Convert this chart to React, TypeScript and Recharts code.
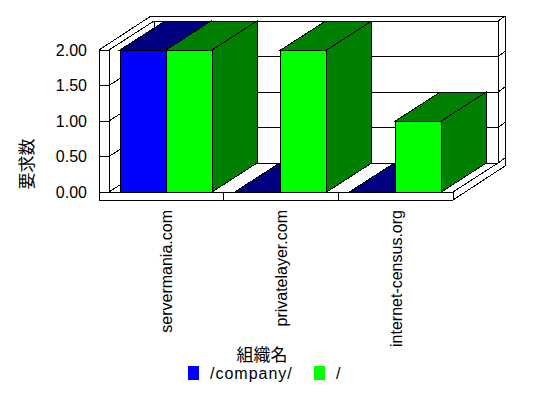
import React from 'react';
import { BarChart, Bar, XAxis, YAxis, Legend, ReferenceArea, ReferenceLine, Label } from 'recharts';

const categories = ['servermania.com', 'privatelayer.com', 'internet-census.org'];
const companyCounts = [2, 0, 0];
const slashCounts = [2, 2, 1];
const seriesNames = ['/company/', '/'];
const yTicks = [0, 0.5, 1, 1.5, 2];

const data = categories.map((name, i) => ({
  name,
  company: companyCounts[i],
  slash: slashCounts[i],
}));

// 3D look: depth offset of the bars / walls
const DX = 45;
const DY = -29;
const WALL = 10; // left wall thickness
const FLOOR = 8; // floor thickness
const TX = 7; // back wall thickness
const TY = -5;
const LEG_H = 36;
const FONT = '"Liberation Sans", Arial, sans-serif';
const CJK = '"Noto Sans CJK JP", sans-serif';

const pts = (a: number[][]) => a.map((p) => p.join(',')).join(' ');

const Frame = (p: any) => {
  const { x, y, width, height } = p;
  const L = x;
  const R = x + width;
  const T = y;
  const B = y + height;
  return (
    <g stroke="#000" strokeWidth={1} shapeRendering="crispEdges">
      <polygon
        fill="#fff"
        points={pts([
          [L - WALL, B + FLOOR],
          [L - WALL, T],
          [L - WALL + DX + TX, T + DY + TY],
          [R + DX + TX, T + DY + TY],
          [R + DX + TX, B + FLOOR + DY + TY],
          [R, B + FLOOR],
        ])}
      />
      <polyline fill="none" points={pts([[L, T], [L, B], [R, B], [R, B + FLOOR]])} />
      <line x1={R} y1={B} x2={R + DX} y2={B + DY} />
      <line x1={L + DX} y1={T + DY} x2={L + DX} y2={B + DY} />
      <line x1={R + DX} y1={T + DY} x2={R + DX} y2={B + DY} />
    </g>
  );
};

// gridline running over the left wall, the back wall and the wall's edge
const GridLine3D = (p: any) => {
  const { x1, y1, x2 } = p;
  if (x1 == null || y1 == null) return null;
  return (
    <polyline
      fill="none"
      stroke="#000"
      strokeWidth={1}
      shapeRendering="crispEdges"
      points={pts([
        [x1 - WALL, y1],
        [x1, y1],
        [x1 + DX, y1 + DY],
        [x2 + DX, y1 + DY],
        [x2 + DX + TX, y1 + DY + TY],
      ])}
    />
  );
};

// small divider on the front edge of the floor between categories
const FloorDivider = (p: any) => {
  const { x1, y1, y2 } = p;
  if (x1 == null) return null;
  const b = Math.max(y1, y2);
  return <line x1={x1} y1={b} x2={x1} y2={b + FLOOR} stroke="#000" strokeWidth={1} shapeRendering="crispEdges" />;
};

const make3DBar = (dark: string) => (p: any) => {
  const { x, y, width: w, height: h, fill } = p;
  if (x == null || y == null) return null;
  const b = y + h;
  return (
    <g stroke="#000" strokeWidth={1} shapeRendering="crispEdges">
      <polygon fill={dark} points={pts([[x, y], [x + w, y], [x + w + DX, y + DY], [x + DX, y + DY]])} />
      <polygon fill={dark} points={pts([[x + w, y], [x + w + DX, y + DY], [x + w + DX, b + DY], [x + w, b]])} />
      <rect x={x} y={y} width={w} height={h} fill={fill} />
    </g>
  );
};

const CategoryTick = (p: any) => {
  const { x, y, payload } = p;
  return (
    <text
      x={x}
      y={y}
      dy={6}
      transform={`rotate(-90 ${x} ${y})`}
      textAnchor="end"
      fontSize={16}
      fontFamily={FONT}
      fill="#000"
    >
      {payload.value}
    </text>
  );
};

const XTitle = (p: any) => {
  const vb = p.viewBox || { x: 0, y: 0, width: 0 };
  return (
    <text
      x={vb.x + vb.width / 2 - 19}
      y={vb.y + 161.5}
      textAnchor="middle"
      dominantBaseline="central"
      fontSize={17}
      fontFamily={CJK}
      fill="#000"
    >
      組織名
    </text>
  );
};

const YTitle = (p: any) => {
  const vb = p.viewBox || { x: 0, y: 0 };
  const cx = vb.x + 25.5;
  const cy = vb.y + 114;
  return (
    <text
      x={cx}
      y={cy}
      transform={`rotate(-90 ${cx} ${cy})`}
      textAnchor="middle"
      dominantBaseline="central"
      fontSize={17}
      fontFamily={CJK}
      fill="#000"
    >
      要求数
    </text>
  );
};

const legendX = [188, 314];

const renderLegend = (props: any) => {
  const payload = [...(props.payload || [])].sort(
    (a: any, b: any) => seriesNames.indexOf(a.value) - seriesNames.indexOf(b.value)
  );
  return (
    <svg width={548} height={LEG_H} style={{ display: 'block' }}>
      {payload.map((item: any, i: number) => (
        <g key={i}>
          <rect x={legendX[i]} y={4} width={11} height={14} fill={item.color} shapeRendering="crispEdges" />
          <text x={legendX[i] + 22} y={16.5} fontSize={16} fontFamily={FONT} letterSpacing={1} fill="#000">
            {item.value}
          </text>
        </g>
      ))}
    </svg>
  );
};

export default function App() {
  return (
    <>
      <style>{'body{margin:0;background:#fff}'}</style>
      <BarChart
        width={548}
        height={398}
        data={data}
        margin={{ top: 50, right: 95, left: 0, bottom: 0 }}
        barSize={46}
        barGap={0}
      >
        <XAxis
          dataKey="name"
          height={206 - LEG_H}
          interval={0}
          axisLine={false}
          tickLine={false}
          tickSize={0}
          tickMargin={18}
          tick={CategoryTick}
        >
          <Label content={XTitle} />
        </XAxis>
        <YAxis
          width={109}
          domain={[0, 2]}
          ticks={yTicks}
          tickFormatter={(v: number) => v.toFixed(2)}
          axisLine={false}
          tickLine={false}
          tickSize={0}
          tickMargin={22}
          tick={{ fill: '#000', fontSize: 16, fontFamily: FONT }}
        >
          <Label content={YTitle} />
        </YAxis>
        <ReferenceArea y1={0} y2={2} shape={Frame} zIndex={-30} ifOverflow="visible" />
        {yTicks.map((t) => (
          <ReferenceLine key={t} y={t} shape={GridLine3D} zIndex={-20} ifOverflow="visible" />
        ))}
        {categories.slice(0, -1).map((c) => (
          <ReferenceLine key={c} x={c} position="end" shape={FloorDivider} zIndex={-20} ifOverflow="visible" />
        ))}
        <Bar dataKey="company" name={seriesNames[0]} fill="#0000ff" shape={make3DBar('#000080')} isAnimationActive={false} />
        <Bar dataKey="slash" name={seriesNames[1]} fill="#00ff00" shape={make3DBar('#008000')} isAnimationActive={false} />
        <Legend verticalAlign="bottom" height={LEG_H} content={renderLegend} />
      </BarChart>
    </>
  );
}
